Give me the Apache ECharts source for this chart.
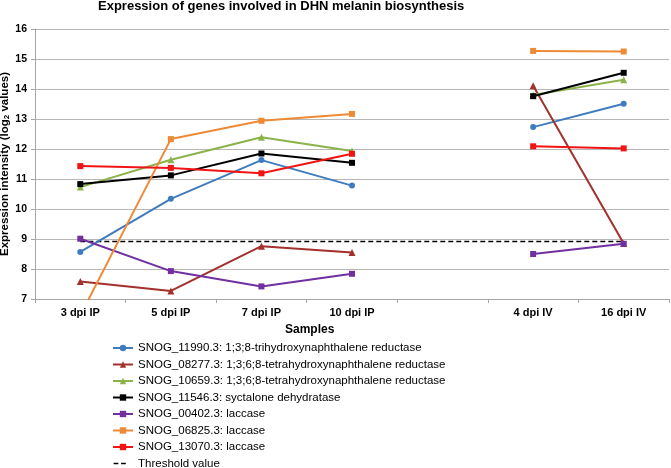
<!DOCTYPE html>
<html style="height: 100%">
<head>
    <meta charset="utf-8">
</head>
<body style="height: 100%; margin: 0; background: #fff">
    <div id="container" style="width: 671px; height: 468px"></div>
    <script src="https://cdn.jsdelivr.net/npm/echarts@6/dist/echarts.min.js"></script>
    <script type="text/javascript">
        // samples (empty slot keeps the gap between IP and IV)
        var samples = ['3 dpi IP', '5 dpi IP', '7 dpi IP', '10 dpi IP', '', '4 dpi IV', '16 dpi IV'];

        var geneNames = [
            'SNOG_11990.3: 1;3;8-trihydroxynaphthalene reductase',
            'SNOG_08277.3: 1;3;6;8-tetrahydroxynaphthalene reductase',
            'SNOG_10659.3: 1;3;6;8-tetrahydroxynaphthalene reductase',
            'SNOG_11546.3: syctalone dehydratase',
            'SNOG_00402.3: laccase',
            'SNOG_06825.3: laccase',
            'SNOG_13070.3: laccase'
        ];

        var snog11990 = [8.57, 10.34, 11.63, 10.78, null, 12.73, 13.51];
        var snog08277 = [7.58, 7.27, 8.76, 8.55, null, 14.11, 8.85];
        var snog10659 = [10.73, 11.64, 12.39, 11.93, null, 13.80, 14.31];
        var snog11546 = [10.83, 11.12, 11.85, 11.54, null, 13.76, 14.54];
        var snog00402 = [9.01, 7.93, 7.42, 7.84, null, 8.50, 8.84];
        var snog06825 = [6.45, 12.33, 12.94, 13.17, null, 15.27, 15.25];
        var snog13070 = [11.43, 11.37, 11.19, 11.84, null, 12.09, 12.02];
        var threshold = [8.92, 8.92, 8.92, 8.92, 8.92, 8.92, 8.92];

        var yTicks = [7, 16, 1]; // min, max, step

        var geneData = [snog11990, snog08277, snog10659, snog11546, snog00402, snog06825, snog13070];
        var colors = ['#3f7cbf', '#a3302c', '#8cb24a', '#000000', '#7030a0', '#ee8a35', '#f01414'];
        var symbols = ['circle', 'triangle', 'triangle', 'rect', 'rect', 'rect', 'rect'];

        var dom = document.getElementById('container');
        var myChart = echarts.init(dom);

        var series = geneData.map(function (d, i) {
            return {
                name: geneNames[i],
                type: 'line',
                data: d,
                symbol: symbols[i],
                symbolSize: symbols[i] === 'triangle' ? 7 : 6,
                lineStyle: { color: colors[i], width: 2 },
                itemStyle: { color: colors[i] },
                connectNulls: false
            };
        });
        series.push({
            name: 'Threshold value',
            type: 'line',
            data: threshold,
            symbol: 'none',
            lineStyle: { color: '#000', width: 1.5, type: [5, 3] },
            itemStyle: { color: '#000' },
            z: 1
        });

        // two short dashes like the original legend key
        var dashIcon = 'path://M0,7h10v3h-10z M16,7h10v3h-10z M0,0h0.1v0.1h-0.1z M0,16.9h0.1v0.1h-0.1z M39.9,0h0.1v0.1h-0.1z';
        var legendData = geneNames.map(function (n) { return { name: n }; });
        legendData.push({ name: 'Threshold value', icon: dashIcon });

        var option = {
            animation: false,
            backgroundColor: '#fff',
            textStyle: { fontFamily: 'Liberation Sans, Arial, sans-serif' },
            title: {
                text: 'Expression of genes involved in DHN melanin biosynthesis',
                left: 98,
                top: 0,
                padding: 0,
                textStyle: { fontSize: 13, fontWeight: 'bold', color: '#000' }
            },
            grid: { left: 35, right: 2, top: 29, bottom: 169, outerBoundsMode: 'none', containLabel: false },
            legend: {
                orient: 'vertical',
                left: 112,
                top: 342,
                height: 140,
                padding: 0,
                itemWidth: 20,
                itemHeight: 8,
                itemGap: 4.5,
                textStyle: { fontSize: 11.5, lineHeight: 12, color: '#000' },
                data: legendData
            },
            xAxis: {
                type: 'category',
                data: samples,
                boundaryGap: true,
                axisLine: { lineStyle: { color: '#a6a6a6' } },
                axisTick: { show: true, length: 4, lineStyle: { color: '#a6a6a6' } },
                axisLabel: { color: '#000', fontWeight: 'bold', fontSize: 11, margin: 8, interval: 0 }
            },
            yAxis: {
                type: 'value',
                min: yTicks[0],
                max: yTicks[1],
                interval: yTicks[2],
                name: '{a|Expression intensity (log}{b|2}{a| values)}',
                nameLocation: 'middle',
                nameGap: 24,
                nameMoveOverlap: false,
                nameTextStyle: {
                    rich: {
                        a: { fontSize: 11.5, fontWeight: 'bold', color: '#000' },
                        b: { fontSize: 8, fontWeight: 'bold', color: '#000', verticalAlign: 'bottom', padding: [5, 0, 0, 0] }
                    }
                },
                axisLine: { show: true, lineStyle: { color: '#a6a6a6' } },
                axisTick: { show: true, length: 4, lineStyle: { color: '#a6a6a6' } },
                splitLine: { lineStyle: { color: '#b7b7b7' } },
                axisLabel: { color: '#000', fontWeight: 'bold', fontSize: 10.5, margin: 8 }
            },
            graphic: [{
                type: 'text',
                left: 285,
                top: 324,
                style: { text: 'Samples', font: 'bold 12px Liberation Sans, Arial', fill: '#000' }
            }],
            series: series
        };

        myChart.setOption(option);
    </script>
</body>
</html>
